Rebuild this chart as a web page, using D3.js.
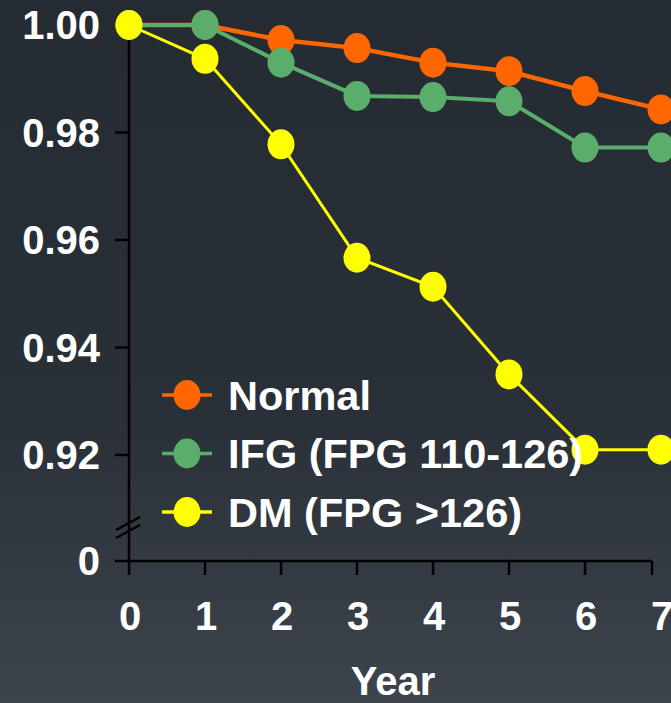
<!DOCTYPE html>
<html><head><meta charset="utf-8">
<script src="https://cdn.jsdelivr.net/npm/d3@7"></script>
<style>html,body{margin:0;padding:0;overflow:hidden;}svg{display:block;}</style>
</head><body>
<script>
const years = [0,1,2,3,4,5,6,7];
const normal = [1.000,1.000,0.9972,0.9957,0.9930,0.9914,0.9877,0.9843];
const ifg    = [1.000,1.000,0.9930,0.9868,0.9866,0.9858,0.9772,0.9772];
const dm     = [1.000,0.9937,0.9778,0.9567,0.9513,0.9350,0.9210,0.9210];
const yTicks = [1.00,0.98,0.96,0.94,0.92];
const yTickLabels = ["1.00","0.98","0.96","0.94","0.92"];
const seriesNames = ["Normal","IFG (FPG 110-126)","DM (FPG >126)"];
const seriesColors = ["#ff6600","#5aad6a","#ffff00"];
const seriesWidths = [4.5,4,3];

const W=671,H=703;
const svg=d3.select("body").append("svg").attr("width",W).attr("height",H);
const defs=svg.append("defs");
const g=defs.append("linearGradient").attr("id","bg").attr("x1",0).attr("y1",0).attr("x2",0).attr("y2",1);
g.append("stop").attr("offset","0").attr("stop-color","#252b33");
g.append("stop").attr("offset","0.6").attr("stop-color","#2a3038");
g.append("stop").attr("offset","1").attr("stop-color","#3d444c");
svg.append("rect").attr("width",W).attr("height",H).attr("fill","url(#bg)");

const x=d3.scaleLinear().domain([0,7]).range([129,661]);
const y=d3.scaleLinear().domain([0.92,1.00]).range([455,25]);
const axisY=561;
const font="'Liberation Sans', Arial, sans-serif";

// axes
const ax=svg.append("g").attr("stroke","#000").attr("stroke-width",2.5).attr("fill","none");
ax.append("line").attr("x1",x(0)).attr("x2",x(0)).attr("y1",y(1.0)).attr("y2",axisY);
ax.append("line").attr("x1",115).attr("x2",652).attr("y1",axisY).attr("y2",axisY);
yTicks.slice(1).forEach(t=>{
  ax.append("line").attr("x1",115).attr("x2",x(0)).attr("y1",y(t)).attr("y2",y(t));
});
years.forEach(v=>{
  const xx = v===7?652:x(v);
  ax.append("line").attr("x1",xx).attr("x2",xx).attr("y1",axisY).attr("y2",575);
});
// break marks
[0,8].forEach(o=>{
  ax.append("line").attr("x1",116).attr("y1",530+o).attr("x2",140).attr("y2",517+o);
});

// labels
const lab=svg.append("g").attr("fill","#fff").attr("font-family",font).attr("font-weight","bold").attr("font-size",40);
yTicks.forEach((t,i)=>{
  lab.append("text").attr("x",100).attr("y",y(t)+14).attr("text-anchor","end").text(yTickLabels[i]);
});
lab.append("text").attr("x",100).attr("y",axisY+14).attr("text-anchor","end").text("0");
years.forEach(v=>{
  lab.append("text").attr("x",x(v)+1).attr("y",630).attr("text-anchor","middle").text(v);
});
lab.append("text").attr("x",393).attr("y",695).attr("text-anchor","middle").text("Year");

// series
const data=[normal,ifg,dm];
const line=d3.line().x((d,i)=>x(years[i])).y(d=>y(d));
data.forEach((s,k)=>{
  const gg=svg.append("g");
  gg.append("path").attr("d",line(s)).attr("fill","none").attr("stroke",seriesColors[k]).attr("stroke-width",seriesWidths[k]);
  gg.selectAll("ellipse").data(s).join("ellipse")
    .attr("cx",(d,i)=>x(years[i])).attr("cy",d=>y(d)).attr("rx",13.5).attr("ry",15)
    .attr("fill",seriesColors[k]);
});

// legend
const lg=svg.append("g");
seriesNames.forEach((n,k)=>{
  const cy=395+k*58.5;
  lg.append("line").attr("x1",162).attr("x2",212).attr("y1",cy).attr("y2",cy).attr("stroke",seriesColors[k]).attr("stroke-width",3.5);
  lg.append("ellipse").attr("cx",187).attr("cy",cy).attr("rx",13.5).attr("ry",15).attr("fill",seriesColors[k]);
  lg.append("text").attr("x",228).attr("y",cy+14.5).attr("fill","#fff").attr("font-family",font).attr("font-weight","bold").attr("font-size",41.5).text(n);
});
</script>
</body></html>
